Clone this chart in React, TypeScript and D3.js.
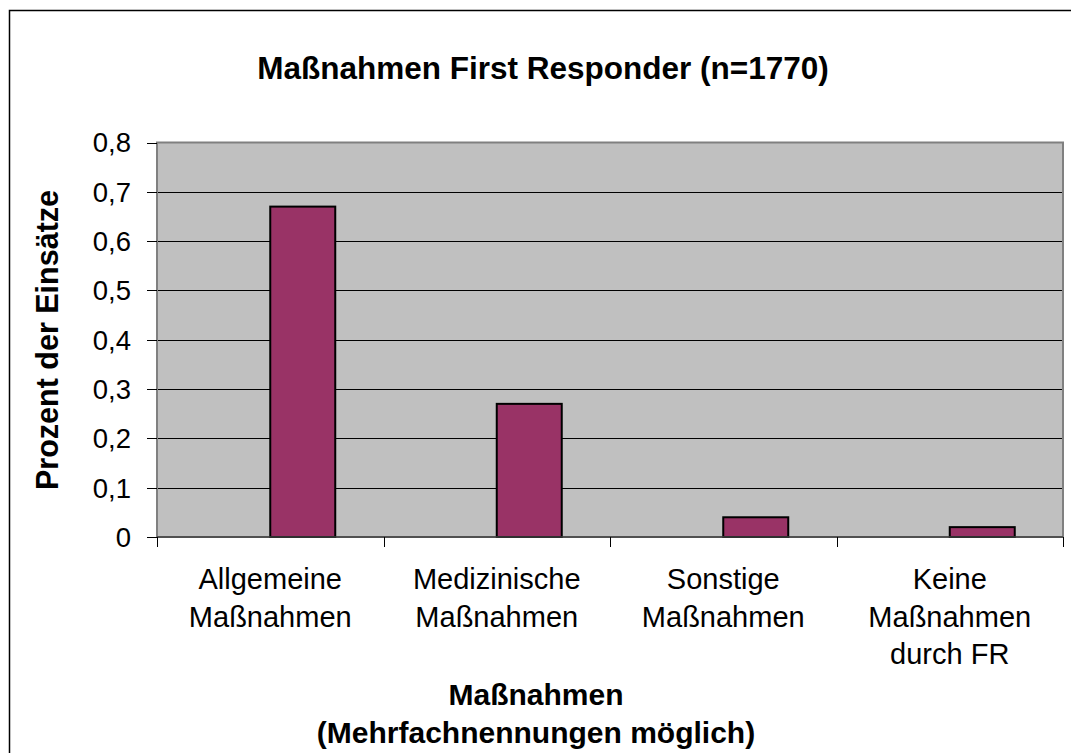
import React from "react";
import * as d3 from "d3";

const categories: string[][] = [
  ["Allgemeine", "Maßnahmen"],
  ["Medizinische", "Maßnahmen"],
  ["Sonstige", "Maßnahmen"],
  ["Keine", "Maßnahmen", "durch FR"],
];
const values: number[] = [0.67, 0.27, 0.04, 0.02];
const yTicks: number[] = [0, 0.1, 0.2, 0.3, 0.4, 0.5, 0.6, 0.7, 0.8];
const title = "Maßnahmen First Responder (n=1770)";
const xTitle = ["Maßnahmen", "(Mehrfachnennungen möglich)"];
const yTitle = "Prozent der Einsätze";

const W = 1071;
const H = 753;
const plot = { left: 157, right: 1063, top: 142.5, bottom: 537 };
const FONT = "'Liberation Sans', Arial, sans-serif";

export default function App() {
  const x = d3
    .scaleBand<number>()
    .domain(d3.range(categories.length))
    .range([plot.left, plot.right])
    .paddingInner(0)
    .paddingOuter(0);
  const y = d3.scaleLinear().domain([0, 0.8]).range([plot.bottom, plot.top]);
  const bw = x.bandwidth();
  const barW = 65;
  const fmt = (v: number) => (v === 0 ? "0" : d3.format(".1f")(v).replace(".", ","));

  return (
    <svg
      width={W}
      height={H}
      style={{ position: "absolute", left: 0, top: 0, background: "#fff" }}
      fontFamily={FONT}
    >
      <rect x={9.5} y={10.5} width={W + 20} height={H + 20} fill="#fff" stroke="#000" strokeWidth={1.5} />
      <text x={543} y={79} textAnchor="middle" fontSize={31.5} fontWeight="bold">
        {title}
      </text>
      <rect
        x={plot.left}
        y={plot.top}
        width={plot.right - plot.left}
        height={plot.bottom - plot.top}
        fill="#c0c0c0"
      />
      {yTicks
        .filter((t) => t > 0 && t < 0.8)
        .map((t) => (
          <line
            key={"g" + t}
            x1={plot.left}
            x2={plot.right}
            y1={Math.round(y(t)) + 0.5}
            y2={Math.round(y(t)) + 0.5}
            stroke="#000"
            strokeWidth={1}
          />
        ))}
      <rect
        x={plot.left}
        y={plot.top}
        width={plot.right - plot.left}
        height={plot.bottom - plot.top}
        fill="none"
        stroke="#808080"
        strokeWidth={2}
      />
      {values.map((v, i) => {
        const x0 = (x(i) as number) + bw / 2;
        return (
          <rect
            key={"b" + i}
            x={x0}
            y={y(v)}
            width={barW}
            height={plot.bottom - y(v)}
            fill="#993366"
            stroke="#000"
            strokeWidth={2}
          />
        );
      })}
      <line x1={plot.left} x2={plot.right} y1={plot.bottom} y2={plot.bottom} stroke="#404040" strokeWidth={1.5} />
      {yTicks.map((t) => (
        <g key={"t" + t}>
          <line x1={plot.left - 10} x2={plot.left} y1={Math.round(y(t)) + 0.5} y2={Math.round(y(t)) + 0.5} stroke="#000" />
          <text x={131} y={y(t)} dy="0.36em" textAnchor="end" fontSize={27.5}>
            {fmt(t)}
          </text>
        </g>
      ))}
      {d3.range(categories.length + 1).map((i) => {
        const xx = plot.left + i * bw;
        return (
          <line key={"xt" + i} x1={Math.round(xx) + 0.5} x2={Math.round(xx) + 0.5} y1={plot.bottom} y2={plot.bottom + 10} stroke="#000" />
        );
      })}
      {categories.map((lines, i) => (
        <text key={"c" + i} textAnchor="middle" fontSize={29} x={(x(i) as number) + bw / 2}>
          {lines.map((l, j) => (
            <tspan key={j} x={(x(i) as number) + bw / 2} y={589 + j * 37.5}>
              {l}
            </tspan>
          ))}
        </text>
      ))}
      <text textAnchor="middle" fontSize={30} fontWeight="bold">
        {xTitle.map((l, j) => (
          <tspan key={j} x={536} y={705 + j * 38}>
            {l}
          </tspan>
        ))}
      </text>
      <text
        transform={`translate(58,340) rotate(-90)`}
        textAnchor="middle"
        fontSize={30.5}
        fontWeight="bold"
      >
        {yTitle}
      </text>
    </svg>
  );
}
